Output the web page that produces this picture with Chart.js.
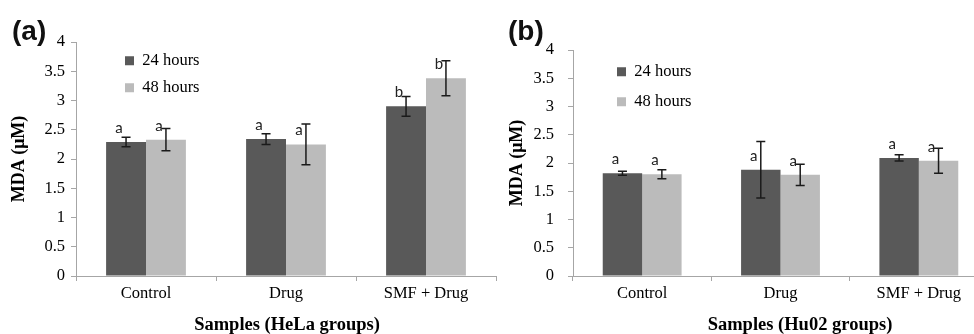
<!DOCTYPE html>
<html>
<head>
<meta charset="utf-8">
<script src="https://cdn.jsdelivr.net/npm/chart.js@4.4.1/dist/chart.umd.min.js"></script>
<style>
  html, body { margin: 0; padding: 0; background: #fff; overflow: hidden; width: 974px; height: 334px; }
  .panel { position: absolute; top: 0; height: 334px; }
  #panelA { left: 0; width: 510px; }
  #panelB { left: 498px; width: 502px; }
</style>
</head>
<body>
<div class="panel" id="panelA"><canvas id="chartA" width="510" height="334"></canvas></div>
<div class="panel" id="panelB"><canvas id="chartB" width="502" height="334"></canvas></div>
<script>
// categories + series (MDA, µM)
const categories = ['Control', 'Drug', 'SMF + Drug'];
const seriesNames = ['24 hours', '48 hours'];

const helaMean24 = [2.29, 2.34, 2.90];
const helaErr24 = [0.08, 0.09, 0.17];
const helaMean48 = [2.33, 2.25, 3.38];
const helaErr48 = [0.19, 0.35, 0.30];
const helaLetters24 = ['a', 'a', 'b'];
const helaLetters48 = ['a', 'a', 'b'];

const hu02Mean24 = [1.82, 1.88, 2.09];
const hu02Err24 = [0.035, 0.50, 0.055];
const hu02Mean48 = [1.80, 1.79, 2.04];
const hu02Err48 = [0.08, 0.19, 0.22];
const hu02Letters24 = ['a', 'a', 'a'];
const hu02Letters48 = ['a', 'a', 'a'];

const yMin = 0;
const yMax = 4;
const yStep = 0.5;

const DARK = '#595959';
const LIGHT = '#bbbbbb';
const AXIS = '#a6a6a6';
const SERIF = "'Liberation Serif', 'Times New Roman', serif";

// error bars, significance letters, x title and panel tag
const barExtras = {
    id: 'barExtras',
    afterLayout(chart, args, opts) {
        const lg = chart.legend;
        if (!lg) return;
        // legend sits inside the plot, nudged right like the original
        lg.left = chart.chartArea.left + opts.legendShift;
        lg.right = chart.chartArea.right;
        lg.top = chart.chartArea.top;
        lg.bottom = chart.chartArea.bottom;
    },
    afterDatasetsDraw(chart) {
        const ctx = chart.ctx;
        const y = chart.scales.y;
        chart.data.datasets.forEach((ds, di) => {
            const meta = chart.getDatasetMeta(di);
            meta.data.forEach((bar, i) => {
                const v = ds.data[i];
                const e = ds.errors[i];
                const top = y.getPixelForValue(v + e);
                const bot = y.getPixelForValue(v - e);
                ctx.save();
                ctx.strokeStyle = '#1a1a1a';
                ctx.lineWidth = 1.5;
                ctx.beginPath();
                ctx.moveTo(bar.x, top); ctx.lineTo(bar.x, bot);
                ctx.moveTo(bar.x - 4.5, top); ctx.lineTo(bar.x + 4.5, top);
                ctx.moveTo(bar.x - 4.5, bot); ctx.lineTo(bar.x + 4.5, bot);
                ctx.stroke();
                ctx.fillStyle = '#222';
                ctx.font = '15px Lato, sans-serif';
                ctx.textAlign = 'center';
                ctx.textBaseline = 'alphabetic';
                ctx.fillText(ds.letters[i], bar.x - 7, bar.y - 9);
                ctx.restore();
            });
        });
    },
    afterDraw(chart, args, opts) {
        const ctx = chart.ctx;
        ctx.save();
        ctx.fillStyle = '#000';
        ctx.font = 'bold 18.5px ' + SERIF;
        ctx.textAlign = 'center';
        ctx.textBaseline = 'alphabetic';
        ctx.fillText(opts.xTitle, opts.xTitleX, 330);
        ctx.fillStyle = '#111';
        ctx.font = "bold 28px 'Liberation Sans', Arial, sans-serif";
        ctx.textAlign = 'left';
        ctx.textBaseline = 'middle';
        ctx.fillText(opts.tag, opts.tagX, 32);
        ctx.restore();
    }
};

function makePanel(canvasId, p) {
    return new Chart(document.getElementById(canvasId), {
        type: 'bar',
        data: {
            labels: categories,
            datasets: [
                { label: seriesNames[0], data: p.mean24, errors: p.err24, letters: p.letters24, backgroundColor: DARK },
                { label: seriesNames[1], data: p.mean48, errors: p.err48, letters: p.letters48, backgroundColor: LIGHT },
            ],
        },
        options: {
            responsive: false,
            animation: false,
            devicePixelRatio: 1,
            categoryPercentage: 0.57,
            barPercentage: 1,
            layout: { padding: { left: 0, right: p.padRight, top: p.padTop, bottom: 0 } },
            plugins: {
                tooltip: { enabled: false },
                legend: {
                    position: 'chartArea',
                    align: 'start',
                    labels: {
                        boxWidth: 9,
                        boxHeight: 9,
                        padding: p.legendPad,
                        color: '#000',
                        font: { family: SERIF, size: 16.5 },
                    },
                },
                barExtras: {
                    legendShift: p.legendShift,
                    xTitle: p.xTitle,
                    xTitleX: p.xTitleX,
                    tag: p.tag,
                    tagX: p.tagX,
                },
            },
            scales: {
                x: {
                    afterFit: s => { s.height = 58; },
                    grid: { display: true, drawOnChartArea: false, offset: true, tickLength: 5, color: AXIS },
                    border: { color: AXIS },
                    ticks: { color: '#000', padding: 3, font: { family: SERIF, size: 16.5 } },
                },
                y: {
                    min: yMin,
                    max: yMax,
                    afterFit: s => { s.width = p.yWidth; },
                    grid: { display: true, drawOnChartArea: false, tickLength: 5, color: AXIS },
                    border: { color: AXIS },
                    ticks: {
                        stepSize: yStep,
                        color: '#000',
                        padding: p.yTickPad,
                        font: { family: SERIF, size: 16.5 },
                        callback: v => String(Math.round(v * 10) / 10),
                    },
                    title: {
                        display: true,
                        text: 'MDA (μM)',
                        color: '#000',
                        padding: { top: 9, bottom: 0 },
                        font: { family: SERIF, size: 18, weight: 'bold' },
                    },
                },
            },
        },
        plugins: [barExtras],
    });
}

makePanel('chartA', {
    mean24: helaMean24, err24: helaErr24, letters24: helaLetters24,
    mean48: helaMean48, err48: helaErr48, letters48: helaLetters48,
    padRight: 14, padTop: 42, yWidth: 76, yTickPad: 6,
    legendPad: 10.5, legendShift: 38.5,
    xTitle: 'Samples (HeLa groups)', xTitleX: 287,
    tag: '(a)', tagX: 12,
});

makePanel('chartB', {
    mean24: hu02Mean24, err24: hu02Err24, letters24: hu02Letters24,
    mean48: hu02Mean48, err48: hu02Err48, letters48: hu02Letters48,
    padRight: 12, padTop: 50, yWidth: 75, yTickPad: 14,
    legendPad: 13.5, legendShift: 30.5,
    xTitle: 'Samples (Hu02 groups)', xTitleX: 302,
    tag: '(b)', tagX: 10,
});
</script>
</body>
</html>
